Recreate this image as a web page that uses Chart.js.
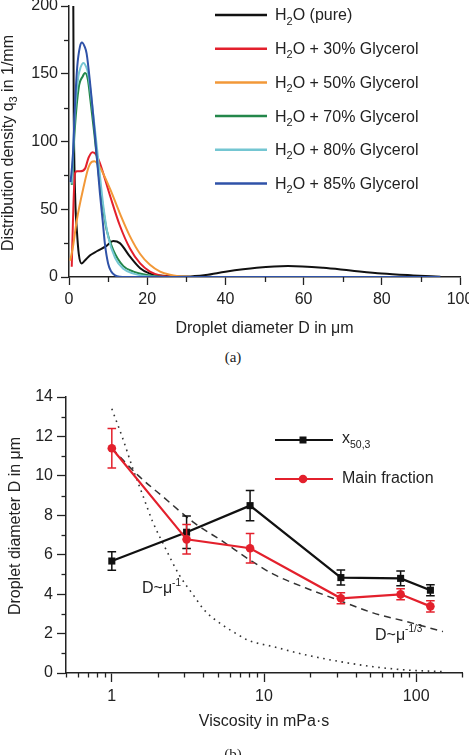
<!DOCTYPE html>
<html>
<head>
<meta charset="utf-8">
<script src="https://cdn.jsdelivr.net/npm/chart.js@4.4.1/dist/chart.umd.min.js"></script>
<style>
  body { margin: 0; background: #fff; width: 469px; height: 755px; overflow: hidden; position: relative; }
  canvas { position: absolute; left: 0; }
  #sizes { top: 0; }
  #visc { top: 375px; }
  .cap { position: absolute; left: 0; width: 466px; text-align: center; font: 15px "Liberation Serif", "Times New Roman", serif; color: #222; }
</style>
</head>
<body>
<canvas id="sizes" width="469" height="345"></canvas>
<div class="cap" style="top:349px">(a)</div>
<canvas id="visc" width="469" height="380"></canvas>
<div class="cap" style="top:746px">(b)</div>
<script>
// (a) droplet size distributions, q3 in 1/mm vs D in um
var pureD  = [1.05, 1.1, 1.25, 1.6, 2.0, 2.5, 3.2, 4.0, 5.4, 7.1, 9.6, 11.3, 13.0, 15.6, 18.2, 20.7, 25, 30, 35, 40, 48, 56, 65, 72, 80, 88, 95];
var pureQ  = [400, 200, 110, 57, 35, 17, 10, 12, 16, 19, 23, 26.5, 25, 15, 6.5, 2.5, 0.8, 0.4, 1.5, 3.9, 6.8, 8.1, 6.8, 4.8, 2.6, 1.2, 0.2];
var gly30D = [0.7, 1.0, 1.5, 2.0, 2.8, 4.1, 5.0, 6.0, 7.0, 7.9, 10.5, 13.0, 15.6, 18.2, 20.7, 23.3, 27, 32];
var gly30Q = [7.6, 40, 76, 78, 78, 80, 88, 92, 90, 84, 60, 38, 21, 10, 4, 1.2, 0.2, 0];
var gly50D = [0.3, 1.0, 2.0, 3.7, 5.0, 5.8, 6.5, 7.9, 10.5, 13.0, 15.6, 18.2, 20.7, 23.3, 25.8, 28, 32];
var gly50Q = [12, 22, 42, 66, 81, 85, 85.5, 81, 65, 47, 30, 17, 9, 4, 1.6, 0.6, 0];
var gly70D = [0.7, 1.5, 2.5, 3.5, 4.1, 4.8, 5.5, 6.5, 7.5, 8.5, 9.6, 11.3, 13.9, 16.5, 19.9, 23, 26];
var gly70Q = [68, 110, 140, 148, 150.5, 146, 130, 105, 78, 55, 35, 20, 8, 4, 1.5, 0.3, 0];
var gly80D = [0.7, 1.5, 2.4, 3.0, 3.7, 4.4, 4.9, 6.2, 7.5, 8.8, 10.0, 11.8, 13.9, 16.5, 20, 23];
var gly80Q = [69, 120, 148, 155, 158, 155, 150, 120, 86, 52, 30, 14, 6, 2.5, 0.5, 0];
var gly85D = [0.4, 1.0, 1.5, 2.1, 2.8, 3.3, 4.0, 4.5, 5.4, 6.6, 7.9, 8.6, 9.2, 10.0, 10.8, 11.8, 13, 14.5, 16, 95];
var gly85Q = [70, 90, 125, 155, 170, 173, 170, 165, 143, 106, 62, 42, 24, 10, 4, 1.2, 0.2, 0, 0, 0];

var legendTails = [' (pure)', ' + 30% Glycerol', ' + 50% Glycerol', ' + 70% Glycerol', ' + 80% Glycerol', ' + 85% Glycerol'];
var colors = ['#111111', '#e3202c', '#f29838', '#23874a', '#74c6d2', '#2f52a8'];

// (b) droplet diameter vs viscosity
var viscosity = [1, 3.1, 8.1, 32, 79, 124];
var x503      = [5.68, 7.14, 8.49, 4.84, 4.8, 4.2];
var x503Err   = [0.47, 0.82, 0.77, 0.38, 0.37, 0.28];
var mainFrac  = [11.4, 6.78, 6.33, 3.79, 3.99, 3.38];
var mainErr   = [1.0, 0.75, 0.75, 0.28, 0.28, 0.28];
var cubeMu = [1, 1.5, 2.2, 3.5, 5.3, 8.2, 11.6, 19, 32, 52, 87, 150];
var cubeD  = [11.4, 10.0, 8.9, 7.6, 6.7, 5.7, 5.0, 4.3, 3.65, 3.05, 2.6, 2.1];
var invMu  = [1, 1.18, 1.37, 1.6, 1.85, 2.26, 2.76, 3.4, 4.1, 5.3, 6.8, 7.8, 11.6, 19, 32, 52, 87, 150];
var invD   = [13.4, 11.9, 10.4, 9.0, 7.7, 6.3, 5.0, 4.0, 3.15, 2.45, 1.93, 1.67, 1.33, 0.91, 0.57, 0.32, 0.15, 0.07];

var FONT = '"Liberation Sans", Arial, sans-serif';
var INK = '#222';
Chart.defaults.font.family = FONT;
Chart.defaults.font.size = 16;
Chart.defaults.color = INK;

function pts(xs, ys) {
  return xs.map(function (x, i) { return {x: x, y: ys[i]}; });
}

// text with sub/superscripts: parts = [[text, size, dy], ...]
function drawRich(ctx, parts, x, y, align) {
  var w = 0;
  parts.forEach(function (p) { ctx.font = p[1] + 'px ' + FONT; w += ctx.measureText(p[0]).width; });
  var cx = align === 'center' ? x - w / 2 : x;
  ctx.textAlign = 'left';
  ctx.textBaseline = 'middle';
  ctx.fillStyle = INK;
  parts.forEach(function (p) {
    ctx.font = p[1] + 'px ' + FONT;
    ctx.fillText(p[0], cx, y + (p[2] || 0));
    cx += ctx.measureText(p[0]).width;
  });
}

var minorTicks = {
  id: 'minorTicks',
  afterDraw: function (chart, args, opts) {
    var ctx = chart.ctx, xs = chart.scales.x, ys = chart.scales.y;
    ctx.save();
    ctx.strokeStyle = INK;
    ctx.lineWidth = 1.3;
    opts.x.forEach(function (v) {
      var p = Math.round(xs.getPixelForValue(v)) + 0.5;
      ctx.beginPath(); ctx.moveTo(p, xs.top); ctx.lineTo(p, xs.top + opts.len); ctx.stroke();
    });
    opts.y.forEach(function (v) {
      var p = Math.round(ys.getPixelForValue(v)) + 0.5;
      ctx.beginPath(); ctx.moveTo(ys.right, p); ctx.lineTo(ys.right - opts.len, p); ctx.stroke();
    });
    ctx.restore();
  }
};

var sizeLabels = {
  id: 'sizeLabels',
  afterDraw: function (chart) {
    var ctx = chart.ctx;
    ctx.save();
    ctx.translate(9, 143);
    ctx.rotate(-Math.PI / 2);
    drawRich(ctx, [['Distribution density q', 16], ['3', 11, 5], [' in 1/mm', 16]], 0, 0, 'center');
    ctx.restore();
    ctx.save();
    legendTails.forEach(function (t, i) {
      var y = 15 + i * 33.7;
      ctx.strokeStyle = colors[i];
      ctx.lineWidth = 2.5;
      ctx.beginPath(); ctx.moveTo(215, y); ctx.lineTo(267, y); ctx.stroke();
      drawRich(ctx, [['H', 16], ['2', 11, 5.5], ['O' + t, 16]], 275, y + 1, 'left');
    });
    ctx.restore();
  }
};

var sizeSeries = [[pureD, pureQ], [gly30D, gly30Q], [gly50D, gly50Q], [gly70D, gly70Q], [gly80D, gly80Q], [gly85D, gly85Q]];

new Chart(document.getElementById('sizes'), {
  type: 'line',
  data: {
    datasets: sizeSeries.map(function (s, i) {
      return {
        data: pts(s[0], s[1]),
        borderColor: colors[i],
        borderWidth: 2,
        pointRadius: 0,
        cubicInterpolationMode: 'monotone',
        fill: false,
        order: 5 - i
      };
    })
  },
  options: {
    responsive: false,
    animation: false,
    layout: {padding: {left: 0, top: 6, right: 9, bottom: 0}},
    plugins: {
      legend: {display: false},
      tooltip: {enabled: false},
      minorTicks: {x: [10, 30, 50, 70, 90], y: [25, 75, 125, 175], len: 5}
    },
    scales: {
      x: {
        type: 'linear', min: 0, max: 100,
        ticks: {stepSize: 20, padding: 5, maxRotation: 0},
        grid: {display: true, drawOnChartArea: false, tickLength: 8, color: INK, tickWidth: 1.3},
        border: {color: INK, width: 1.5},
        title: {display: true, text: 'Droplet diameter D in \u03bcm', padding: {top: 0, bottom: 7}},
        afterFit: function (s) { s.height = 68; s.paddingLeft = 0; s.paddingRight = 0; }
      },
      y: {
        min: 0, max: 200,
        ticks: {stepSize: 50, padding: 3},
        grid: {display: true, drawOnChartArea: false, tickLength: 8, color: INK, tickWidth: 1.3},
        border: {color: INK, width: 1.5},
        afterFit: function (s) { s.width = 69; s.paddingTop = 0; s.paddingBottom = 0; }
      }
    }
  },
  plugins: [minorTicks, sizeLabels]
});

var errorBars = {
  id: 'errorBars',
  afterDatasetDraw: function (chart, args) {
    var ds = chart.data.datasets[args.index];
    if (!ds.errors) return;
    var ctx = chart.ctx, xs = chart.scales.x, ys = chart.scales.y;
    ctx.save();
    ctx.strokeStyle = ds.borderColor;
    ctx.lineWidth = 1.5;
    ds.data.forEach(function (p, i) {
      var px = xs.getPixelForValue(p.x);
      var top = ys.getPixelForValue(p.y + ds.errors[i]);
      var bot = ys.getPixelForValue(p.y - ds.errors[i]);
      ctx.beginPath();
      ctx.moveTo(px, top); ctx.lineTo(px, bot);
      ctx.moveTo(px - 4.3, top); ctx.lineTo(px + 4.3, top);
      ctx.moveTo(px - 4.3, bot); ctx.lineTo(px + 4.3, bot);
      ctx.stroke();
    });
    ctx.restore();
  }
};

var viscLabels = {
  id: 'viscLabels',
  afterDraw: function (chart) {
    var ctx = chart.ctx;
    ctx.save();
    ctx.translate(16, 151);
    ctx.rotate(-Math.PI / 2);
    drawRich(ctx, [['Droplet diameter D in \u03bcm', 16]], 0, 0, 'center');
    ctx.restore();

    ctx.save();
    // legend
    ctx.lineWidth = 2.2;
    ctx.strokeStyle = '#111';
    ctx.beginPath(); ctx.moveTo(275, 65); ctx.lineTo(333, 65); ctx.stroke();
    ctx.fillStyle = '#111';
    ctx.fillRect(299.5, 61.5, 7, 7);
    drawRich(ctx, [['x', 16], ['50,3', 10.5, 6]], 342, 64, 'left');
    ctx.strokeStyle = '#e3202c';
    ctx.beginPath(); ctx.moveTo(275, 104); ctx.lineTo(333, 104); ctx.stroke();
    ctx.fillStyle = '#e3202c';
    ctx.beginPath(); ctx.arc(303, 104, 4.3, 0, Math.PI * 2); ctx.fill();
    drawRich(ctx, [['Main fraction', 16]], 342, 104, 'left');
    // fit annotations
    drawRich(ctx, [['D~\u03bc', 16], ['-1', 10, -6]], 142, 214, 'left');
    drawRich(ctx, [['D~\u03bc', 16], ['-1/3', 10, -7]], 375, 261, 'left');
    ctx.restore();
  }
};

var logMinor = [0.5, 0.6, 0.7, 0.8, 0.9, 2, 3, 4, 5, 6, 7, 8, 9, 20, 30, 40, 50, 60, 70, 80, 90, 200];

new Chart(document.getElementById('visc'), {
  type: 'line',
  data: {
    datasets: [
      {
        label: 'Main fraction', data: pts(viscosity, mainFrac), errors: mainErr,
        borderColor: '#e3202c', backgroundColor: '#e3202c', borderWidth: 2.2,
        pointStyle: 'circle', pointRadius: 4.3, pointBorderWidth: 0, tension: 0
      },
      {
        label: 'x50,3', data: pts(viscosity, x503), errors: x503Err,
        borderColor: '#111111', backgroundColor: '#111111', borderWidth: 2.2,
        pointStyle: 'rect', pointRadius: 5, pointBorderWidth: 0, tension: 0
      },
      {
        label: 'D~mu^-1/3', data: pts(cubeMu, cubeD),
        borderColor: '#333', borderWidth: 1.5, borderDash: [7, 5],
        pointRadius: 0, cubicInterpolationMode: 'monotone'
      },
      {
        label: 'D~mu^-1', data: pts(invMu, invD),
        borderColor: '#333', borderWidth: 1.6, borderDash: [1.6, 4.6],
        pointRadius: 0, cubicInterpolationMode: 'monotone'
      }
    ]
  },
  options: {
    responsive: false,
    animation: false,
    layout: {padding: {left: 0, top: 22, right: 7, bottom: 0}},
    plugins: {
      legend: {display: false},
      tooltip: {enabled: false},
      minorTicks: {x: logMinor, y: [1, 3, 5, 7, 9, 11, 13], len: 4.5}
    },
    scales: {
      x: {
        type: 'logarithmic', min: 0.5, max: 200,
        afterBuildTicks: function (s) { s.ticks = [1, 10, 100].map(function (v) { return {value: v}; }); },
        ticks: {padding: 4.5, maxRotation: 0, callback: function (v) { return String(v); }},
        grid: {display: true, drawOnChartArea: false, tickLength: 9, color: INK, tickWidth: 1.3},
        border: {color: INK, width: 1.5},
        title: {display: true, text: 'Viscosity in mPa\u00b7s', padding: {top: 0, bottom: 24}},
        afterFit: function (s) { s.height = 82; s.paddingLeft = 0; s.paddingRight = 0; }
      },
      y: {
        min: 0, max: 14,
        ticks: {stepSize: 2, padding: 4},
        grid: {display: true, drawOnChartArea: false, tickLength: 9, color: INK, tickWidth: 1.3},
        border: {color: INK, width: 1.5},
        afterFit: function (s) { s.width = 66; s.paddingTop = 0; s.paddingBottom = 0; }
      }
    }
  },
  plugins: [minorTicks, errorBars, viscLabels]
});
</script>
</body>
</html>
